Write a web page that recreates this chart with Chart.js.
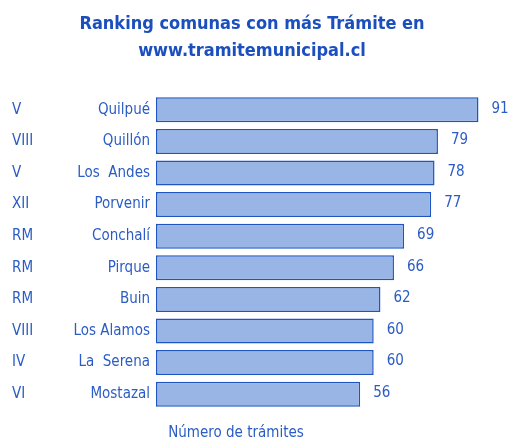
<!DOCTYPE html>
<html><head><meta charset="utf-8">
<script src="https://cdn.jsdelivr.net/npm/chart.js@4"></script>
<style>html,body{margin:0;padding:0;background:#fff}#wrap{width:514px;height:442px}</style>
</head><body><div id="wrap"><canvas id="c" width="514" height="442"></canvas></div>
<script>
const comunas = ["Quilpué","Quillón","Los  Andes","Porvenir","Conchalí","Pirque","Buin","Los Alamos","La  Serena","Mostazal"];
const regiones = ["V","VIII","V","XII","RM","RM","RM","VIII","IV","VI"];
const tramites = [91,79,78,77,69,66,62,60,60,56];
const titleLines = ["Ranking comunas con más Trámite en","www.tramitemunicipal.cl"];
const xTitle = "Número de trámites";

const FONT = "'Liberation Sans Narrow','DejaVu Sans Condensed','Liberation Sans',sans-serif";
const TXT = "#2a5cc4";
const X_MIN = -4.4, X_MAX = 95;

const valueLabels = {
  id:'valueLabels',
  afterDatasetsDraw(chart){
    const ctx = chart.ctx;
    const meta = chart.getDatasetMeta(0);
    ctx.save();
    ctx.font = "15px " + FONT;
    ctx.fillStyle = TXT;
    ctx.textAlign = 'left';
    ctx.textBaseline = 'middle';
    meta.data.forEach((bar,i)=>{
      ctx.fillText(String(tramites[i]), bar.x + 13, bar.y - 1);
    });
    ctx.restore();
  }
};
const axisTitle = {
  id:'axisTitle',
  afterDraw(chart){
    const ctx = chart.ctx;
    ctx.save();
    ctx.font = "15px " + FONT;
    ctx.fillStyle = TXT;
    ctx.textAlign = 'center';
    ctx.textBaseline = 'middle';
    ctx.fillText(xTitle, 236, chart.chartArea.bottom + 23);
    ctx.restore();
  }
};

new Chart(document.getElementById('c'), {
  type:'bar',
  data:{
    labels: comunas,
    datasets:[{
      data: tramites,
      base: X_MIN,
      backgroundColor:'#98b5e5',
      borderColor:'#1e55c0',
      borderWidth:1.5,
      borderSkipped:false,
      barPercentage:0.79,
      categoryPercentage:1.0
    }]
  },
  options:{
    indexAxis:'y',
    responsive:false,
    animation:false,
    layout:{padding:{left:12,right:22,top:0,bottom:32}},
    plugins:{
      legend:{display:false},
      tooltip:{enabled:false},
      title:{
        display:true,
        text:titleLines,
        color:'#1a4fbd',
        font:{family:FONT,size:18,weight:'bold',lineHeight:1.5},
        padding:{top:11,bottom:29}
      }
    },
    scales:{
      x:{
        type:'linear', min:X_MIN, max:X_MAX, display:false
      },
      y2:{
        type:'category', position:'left', labels: regiones, offset:true, weight:2,
        grid:{display:false, drawTicks:false}, border:{display:false},
        ticks:{crossAlign:'far', color:TXT, font:{family:FONT,size:15}, padding:0},
        afterFit(s){ s.width = 44; }
      },
      y:{
        type:'category', position:'left', offset:true, weight:1,
        grid:{display:false, drawTicks:false}, border:{display:false},
        ticks:{color:TXT, font:{family:FONT,size:15}, padding:6},
        afterFit(s){ s.width = 100; }
      }
    }
  },
  plugins:[valueLabels, axisTitle]
});
</script></body></html>
